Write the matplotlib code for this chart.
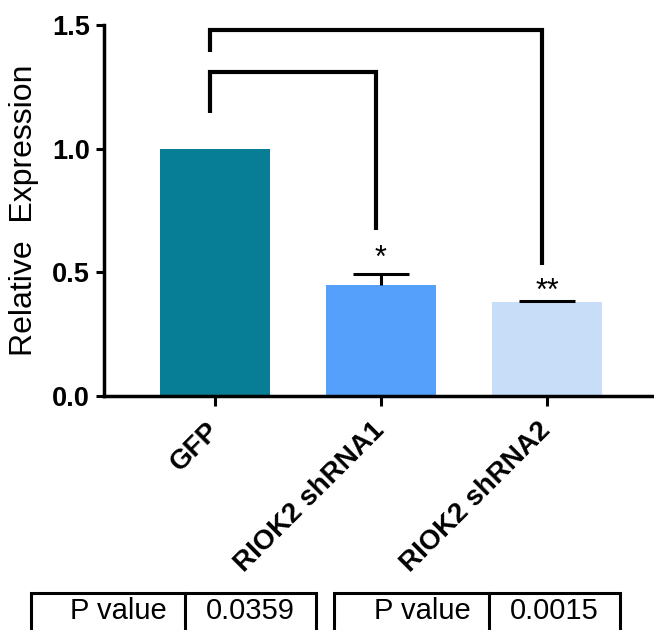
import numpy as np
import matplotlib
matplotlib.use("Agg")
import matplotlib.pyplot as plt

groups = ["GFP", "RIOK2 shRNA1", "RIOK2 shRNA2"]
values = [1.0, 0.45, 0.38]
errors = [0.0, 0.045, 0.004]
colors = ["#087E96", "#55A0FA", "#C8DDF7"]
stars = ["", "*", "**"]
star_y = [0.0, 0.522, 0.389]

# brackets: (left, right, top, left leg bottom, right leg bottom)
brackets = [(0, 1, 1.308, 1.146, 0.672),
            (0, 2, 1.478, 1.389, 0.530)]

p_labels = ["P value", "P value"]
p_values = ["0.0359", "0.0015"]

plt.rcParams['font.family'] = ['Liberation Sans', 'DejaVu Sans']

fig = plt.figure(figsize=(6.54, 6.3), dpi=100)
ax = fig.add_axes([104 / 654, 1 - 396 / 630, 550 / 654, 371 / 630])

x = np.arange(len(groups))
ax.bar(x, values, width=0.66, color=colors, zorder=2)
eb = ax.errorbar(x[1:], values[1:], yerr=[np.zeros(2), errors[1:]], fmt="none",
                 ecolor="black", elinewidth=2.2, capsize=20, capthick=2.2, zorder=3)
eb[1][0].set_visible(False)  # only the upper cap

off = -0.03
for x0, x1, top, b0, b1 in brackets:
    ax.plot([x0 + off, x0 + off, x1 + off, x1 + off], [b0, top, top, b1],
            color="black", lw=3, solid_joinstyle="miter", solid_capstyle="butt",
            clip_on=False, zorder=4)

for xi, s, sy in zip(x, stars, star_y):
    if s:
        ax.text(xi, sy, s, ha="center", va="baseline", fontsize=22)

ax.set_xlim(-0.669, 2.645)
ax.set_ylim(0, 1.5)
ax.set_yticks([0, 0.5, 1.0, 1.5])
ax.set_yticklabels(["0.0", "0.5", "1.0", "1.5"])
ax.set_xticks(x)
ax.set_xticklabels(groups)
for sp in ["top", "right"]:
    ax.spines[sp].set_visible(False)
for sp in ["left", "bottom"]:
    ax.spines[sp].set_linewidth(2.5)
ax.tick_params(axis="y", length=6, width=2.2, pad=4, labelsize=19.5)
ax.tick_params(axis="x", length=7, width=2.2, pad=15, labelsize=20)
for lab in ax.get_yticklabels():
    lab.set_fontweight("bold")
for lab in ax.get_xticklabels():
    lab.set_fontweight("bold")
    lab.set_rotation(45)
    lab.set_ha("right")
    lab.set_va("center")
    lab.set_rotation_mode("anchor")

ax.set_ylabel("Relative  Expression", fontsize=23)
ax.yaxis.set_label_coords(-0.118, 0.5)

# P value tables at the bottom
tab = fig.add_axes([0, 0, 1, 40 / 630])
tab.set_xlim(0, 654)
tab.set_ylim(0, 40)
tab.axis("off")
boxes = [(31, 185, 316), (334, 489, 620)]
for (l, d, r), pl, pv in zip(boxes, p_labels, p_values):
    tab.plot([l, l, r, r], [-5, 37, 37, -5], color="black", lw=2.2,
             solid_joinstyle="miter", clip_on=False)
    tab.plot([d, d], [-5, 37], color="black", lw=2.2, clip_on=False)
    tab.text(d - 18, 11, pl, ha="right", va="baseline", fontsize=21)
    tab.text((d + r) / 2, 11, pv, ha="center", va="baseline", fontsize=21)

fig.savefig("out.png", dpi=100)
